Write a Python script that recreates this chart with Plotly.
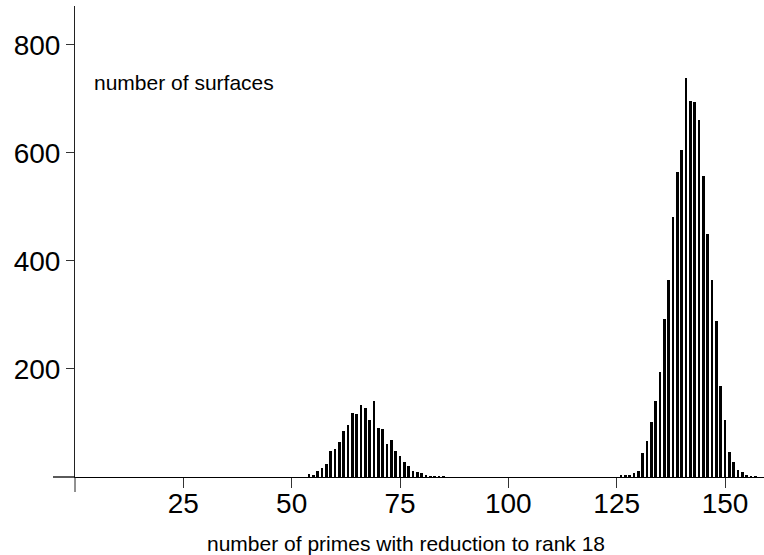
import plotly.graph_objects as go

# number of primes (x) and number of surfaces (y)
left_primes = list(range(54, 86))
left_counts = [5, 3, 12, 17, 25, 48, 52, 65, 85, 96, 118, 116, 133, 127, 106, 141,
               91, 89, 62, 68, 48, 38, 27, 20, 11, 9, 7, 3, 1, 1, 1, 1]
right_primes = list(range(126, 158))
right_counts = [2, 4, 3, 7, 12, 44, 67, 101, 141, 194, 293, 364, 481, 565, 605, 738,
                697, 695, 661, 557, 449, 364, 288, 168, 105, 46, 27, 13, 9, 4, 1, 1]

x_ticks = [25, 50, 75, 100, 125, 150]
y_ticks = [200, 400, 600, 800]

FONT = "Liberation Sans, Arial, Helvetica, sans-serif"

fig = go.Figure()
fig.add_trace(go.Bar(x=left_primes + right_primes, y=left_counts + right_counts,
                     width=0.55, marker=dict(color="black", line=dict(width=0)),
                     showlegend=False))

L, R, T, B = 75, 0, 6, 78
W, H = 764, 555
pw, ph = W - L - R, H - T - B

fig.update_layout(
    width=W, height=H,
    margin=dict(l=L, r=R, t=T, b=B, pad=0),
    plot_bgcolor="white", paper_bgcolor="white",
    bargap=0,
    font=dict(family=FONT, color="black"),
    xaxis=dict(range=[0, 159], tickvals=x_ticks, ticktext=[str(v) for v in x_ticks],
               showgrid=False, zeroline=False, showline=True, linecolor="black",
               linewidth=1.3, ticks="outside", ticklen=10, tickcolor="#333",
               tickwidth=1, tickfont=dict(size=28, family=FONT),
               ticklabelstandoff=-9),
    yaxis=dict(range=[0, 872], tickvals=y_ticks, ticktext=[str(v) for v in y_ticks],
               showgrid=False, zeroline=False, showline=True, linecolor="#222",
               linewidth=1, ticks="outside", ticklen=8, tickcolor="#333",
               tickwidth=1, tickfont=dict(size=28, family=FONT)),
    shapes=[
        # x-axis line extension to the left
        dict(type="line", xref="paper", yref="paper", x0=-22 / pw, x1=0, y0=0, y1=0,
             line=dict(color="black", width=1.3)),
        # y-axis line extension below
        dict(type="line", xref="paper", yref="paper", x0=0, x1=0, y0=-15 / ph, y1=0,
             line=dict(color="#222", width=1)),
    ],
    annotations=[
        dict(text="number of surfaces", xref="paper", yref="paper",
             x=17 / pw, y=(477 - 83) / ph, xanchor="left", yanchor="middle",
             showarrow=False, font=dict(size=21, family=FONT)),
        dict(text="number of primes with reduction to rank 18", xref="paper", yref="paper",
             x=(405.5 - L) / pw, y=-(543 - 477) / ph, xanchor="center", yanchor="middle",
             showarrow=False, font=dict(size=21, family=FONT)),
    ],
)

fig.write_html("out.html")
